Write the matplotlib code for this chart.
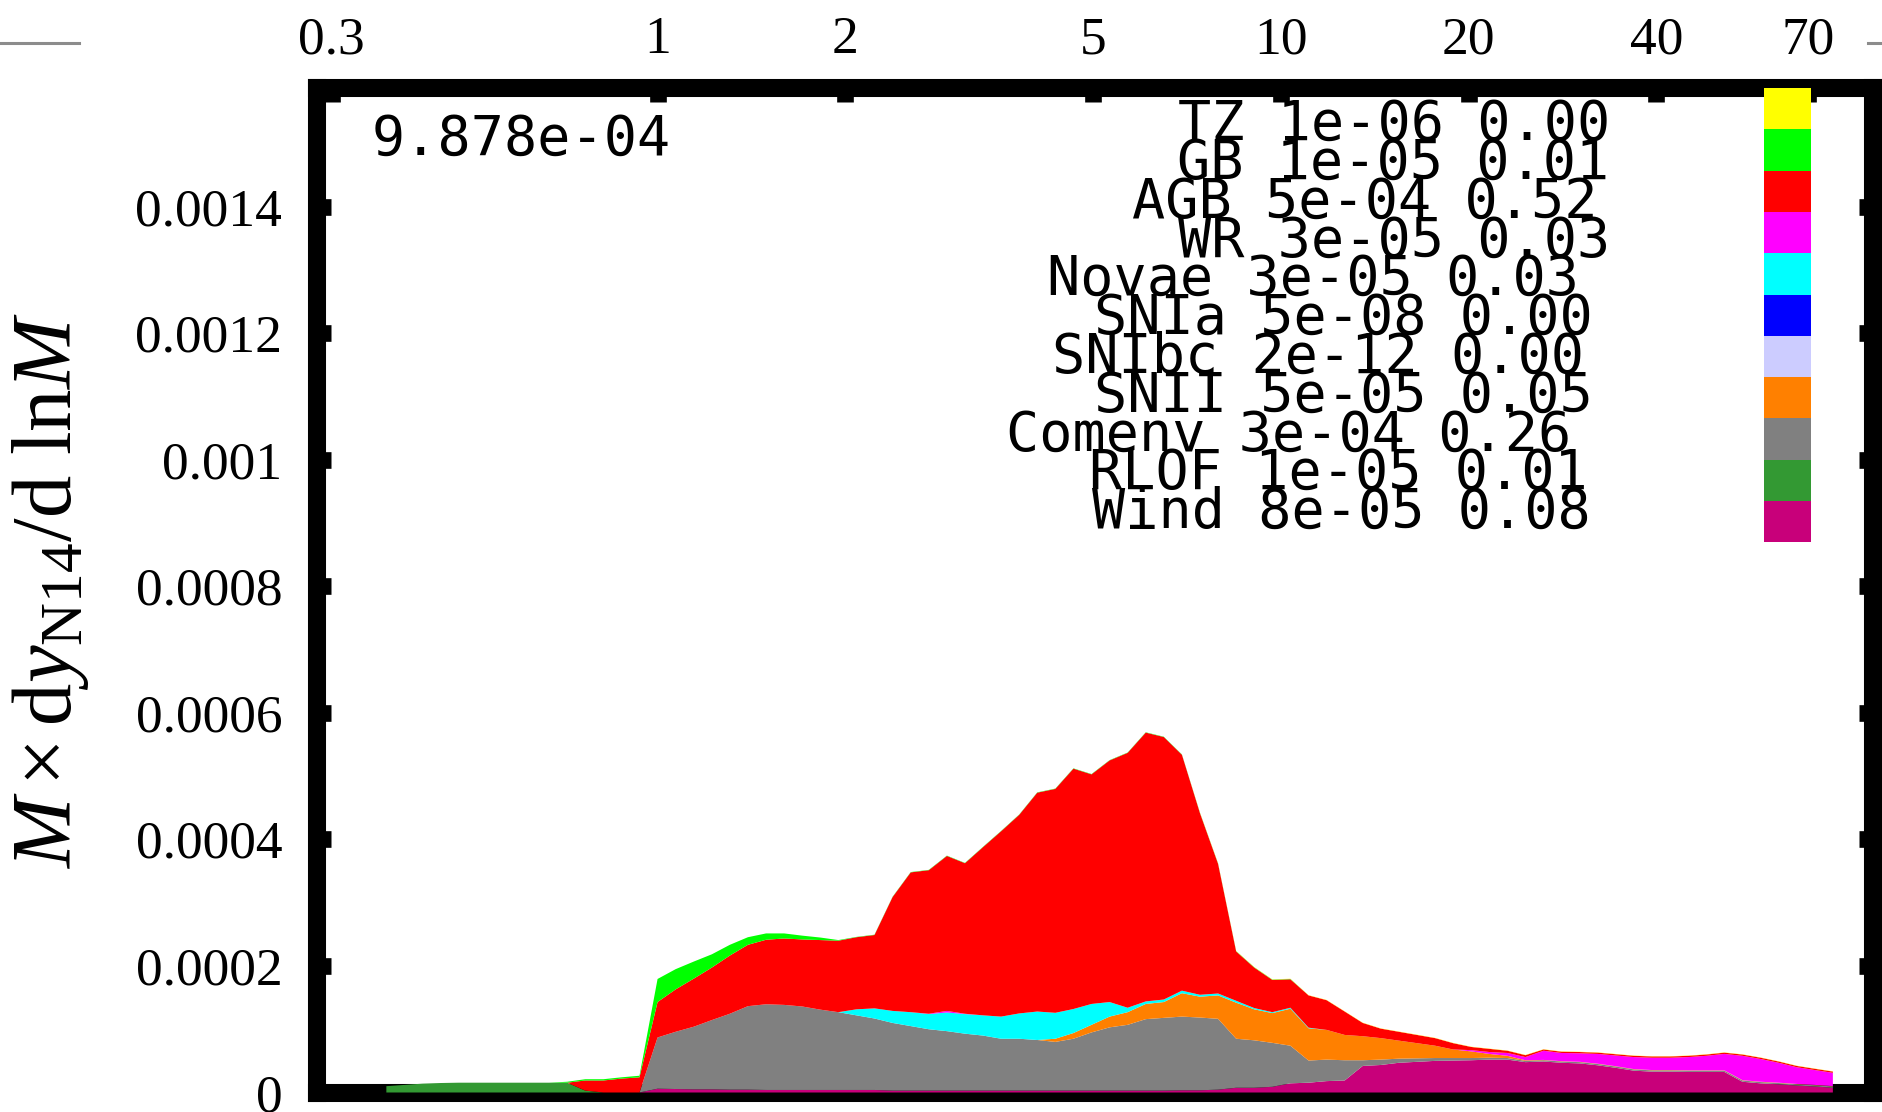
import numpy as np
import matplotlib
matplotlib.use("Agg")
import matplotlib.pyplot as plt
from matplotlib.patches import Rectangle
from matplotlib.lines import Line2D
from matplotlib.ticker import NullLocator

plt.rcParams['mathtext.fontset'] = 'custom'
plt.rcParams['mathtext.rm'] = 'Liberation Serif'
plt.rcParams['mathtext.it'] = 'Liberation Serif:italic'

# initial mass grid (Msun)
mass = [0.3673, 0.3926, 0.4198, 0.4487, 0.4797, 0.5129, 0.5483, 0.5861, 0.6266, 0.6699,
        0.7161, 0.7656, 0.8185, 0.8750, 0.9354,
        1.000, 1.069, 1.143, 1.222, 1.306, 1.396, 1.493, 1.596, 1.706, 1.824,
        1.950, 2.084, 2.228, 2.382, 2.547, 2.723, 2.911, 3.112, 3.327, 3.556,
        3.802, 4.064, 4.345, 4.645, 4.966, 5.309, 5.675, 6.067, 6.486, 6.934,
        7.413, 7.925, 8.472, 9.057, 9.683, 10.35, 11.07, 11.83, 12.65, 13.52,
        14.45, 15.45, 16.52, 17.66, 18.88, 20.18, 21.58, 23.07, 24.66, 26.36,
        28.18, 30.13, 32.21, 34.43, 36.81, 39.35, 42.07, 44.98, 48.08, 51.40,
        54.95, 58.75, 62.81, 67.14, 71.78, 76.74]

# contributions in units of 1e-5
wind = [0, 0, 0, 0, 0, 0, 0, 0, 0, 0, 0, 0, 0, 0, 0,
        0.6, 0.55, 0.5, 0.5, 0.45, 0.45, 0.4, 0.4, 0.4, 0.4,
        0.4, 0.4, 0.4, 0.3, 0.3, 0.3, 0.3, 0.3, 0.3, 0.3,
        0.3, 0.3, 0.3, 0.3, 0.3, 0.3, 0.3, 0.3, 0.3, 0.35,
        0.35, 0.45, 0.75, 0.75, 0.9, 1.45, 1.55, 1.8, 1.9, 4.2,
        4.35, 4.7, 4.85, 5.0, 5.05, 5.1, 5.2, 5.2, 4.8, 4.9,
        4.7, 4.6, 4.3, 3.9, 3.45, 3.3, 3.3, 3.25, 3.25, 3.25,
        1.7, 1.45, 1.3, 1.1, 0.95, 0.76]
rlof = [1.0, 1.2, 1.4, 1.5, 1.55, 1.55, 1.55, 1.55, 1.55, 1.55, 1.55, 0.3, 0, 0, 0,
        0, 0, 0, 0, 0, 0, 0, 0, 0, 0,
        0, 0, 0, 0, 0, 0, 0, 0, 0, 0,
        0, 0, 0, 0, 0, 0, 0, 0, 0, 0,
        0, 0, 0, 0, 0, 0, 0, 0, 0, 0,
        0, 0, 0, 0, 0, 0, 0, 0, 0, 0,
        0, 0, 0, 0, 0, 0, 0, 0, 0, 0,
        0, 0, 0, 0, 0, 0]
comenv = [0, 0, 0, 0, 0, 0, 0, 0, 0, 0, 0, 0, 0, 0, 0,
          8.1, 9.05, 9.9, 10.95, 12.0, 13.2, 13.55, 13.45, 13.2, 12.7,
          12.3, 11.8, 11.3, 10.7, 10.2, 9.7, 9.4, 9.0, 8.7, 8.2,
          8.2, 8.0, 7.7, 8.2, 9.2, 10.0, 10.4, 11.3, 11.5, 11.65,
          11.5, 11.2, 7.75, 7.5, 6.95, 5.95, 3.5, 3.4, 3.2, 0.9,
          0.85, 0.65, 0.55, 0.45, 0.4, 0.35, 0.3, 0.25, 0.2, 0.2,
          0.2, 0.2, 0.2, 0.2, 0.2, 0.2, 0.2, 0.2, 0.2, 0.2,
          0.2, 0.2, 0.2, 0.2, 0.2, 0.2]
snii = [0, 0, 0, 0, 0, 0, 0, 0, 0, 0, 0, 0, 0, 0, 0,
        0, 0, 0, 0, 0, 0, 0, 0, 0, 0,
        0, 0, 0, 0, 0, 0, 0, 0, 0, 0,
        0, 0, 0.5, 0.9, 1.2, 1.7, 2.0, 2.4, 2.5, 3.7,
        3.3, 3.7, 5.7, 4.9, 4.7, 5.85, 5.1, 4.7, 4.0, 3.8,
        3.4, 2.85, 2.4, 1.95, 1.35, 1.05, 0.6, 0.35, 0.1, 0.05,
        0.05, 0.05, 0.05, 0.05, 0.05, 0.05, 0.05, 0.05, 0.05, 0.05,
        0.05, 0.05, 0.05, 0.05, 0.05, 0.05]
snibc = [0.0] * len(mass)
snia = [0.0] * len(mass)
novae = [0, 0, 0, 0, 0, 0, 0, 0, 0, 0, 0, 0, 0, 0, 0,
         0, 0, 0, 0, 0, 0, 0, 0, 0, 0,
         0, 0.95, 1.6, 1.9, 2.2, 2.4, 2.95, 3.1, 3.2, 3.5,
         4.0, 4.5, 4.1, 3.8, 3.3, 2.3, 0.7, 0.4, 0.4, 0.4,
         0.3, 0.3, 0.3, 0.2, 0.15, 0.15, 0.1, 0, 0, 0,
         0, 0, 0, 0, 0, 0, 0, 0, 0, 0,
         0, 0, 0, 0, 0, 0, 0, 0, 0, 0,
         0, 0, 0, 0, 0, 0]
wr = [0, 0, 0, 0, 0, 0, 0, 0, 0, 0, 0, 0, 0, 0, 0,
      0, 0, 0, 0, 0, 0, 0, 0, 0, 0,
      0, 0, 0, 0, 0, 0.05, 0.25, 0.05, 0, 0,
      0, 0, 0, 0, 0, 0, 0, 0, 0, 0,
      0, 0, 0, 0, 0, 0, 0, 0, 0, 0,
      0, 0, 0, 0, 0, 0.2, 0.3, 0.45, 0.5, 1.45,
      1.3, 1.35, 1.55, 1.7, 1.9, 1.95, 1.95, 2.1, 2.3, 2.6,
      3.85, 3.6, 3.15, 2.65, 2.35, 2.1]
agb = [0, 0, 0, 0, 0, 0, 0, 0, 0, 0, 0, 1.6, 1.9, 2.2, 2.4,
       5.6, 6.7, 7.6, 8.3, 9.2, 9.7, 10.2, 10.5, 10.6, 11.0,
       11.3, 11.4, 11.6, 18.0, 22.1, 22.7, 24.5, 23.8, 26.6, 29.3,
       31.4, 34.6, 35.4, 38.0, 36.3, 38.2, 40.3, 42.5, 41.5, 37.3,
       28.7, 20.5, 7.8, 6.4, 5.1, 4.5, 5.1, 4.7, 3.7, 2.1,
       1.5, 1.4, 1.3, 1.2, 1.0, 0.5, 0.5, 0.35, 0.3, 0.2,
       0.2, 0.2, 0.2, 0.2, 0.2, 0.2, 0.2, 0.2, 0.2, 0.2,
       0.2, 0.2, 0.2, 0.2, 0.2, 0.2]
gb = [0, 0, 0, 0, 0, 0, 0, 0, 0, 0, 0.15, 0.2, 0.2, 0.2, 0.25,
      3.65, 3.2, 2.7, 2.1, 1.7, 1.2, 1.0, 0.8, 0.6, 0.4,
      0.1, 0.05, 0.05, 0.05, 0.05, 0.05, 0.05, 0.05, 0.05, 0.05,
      0.05, 0.05, 0.05, 0.05, 0.05, 0.05, 0.05, 0.05, 0.05, 0.05,
      0.05, 0.05, 0.05, 0.05, 0.05, 0.05, 0, 0, 0, 0,
      0, 0, 0, 0, 0, 0, 0, 0, 0, 0,
      0, 0, 0, 0, 0, 0, 0, 0, 0, 0,
      0, 0, 0, 0, 0, 0]
tz = [0, 0, 0, 0, 0, 0, 0, 0, 0, 0, 0, 0, 0, 0, 0,
      0, 0, 0, 0, 0, 0, 0, 0, 0, 0,
      0, 0, 0, 0, 0, 0, 0, 0, 0, 0,
      0, 0, 0, 0, 0, 0, 0, 0, 0, 0,
      0.04, 0.04, 0.04, 0.04, 0.04, 0.04, 0.04, 0.04, 0.04, 0.04,
      0.04, 0.04, 0.04, 0.04, 0.04, 0.04, 0.04, 0.04, 0.04, 0.04,
      0.04, 0.04, 0.04, 0.04, 0.04, 0.04, 0.04, 0.04, 0.04, 0.04,
      0.04, 0.04, 0.04, 0.04, 0.04, 0.04]

# key: top to bottom
names = ['TZ', 'GB', 'AGB', 'WR', 'Novae', 'SNIa', 'SNIbc', 'SNII', 'Comenv', 'RLOF', 'Wind']
yields = [1e-06, 1e-05, 5e-04, 3e-05, 3e-05, 5e-08, 2e-12, 5e-05, 3e-04, 1e-05, 8e-05]
fracs = [0.00, 0.01, 0.52, 0.03, 0.03, 0.00, 0.00, 0.05, 0.26, 0.01, 0.08]
colors = ['#ffff00', '#00ff00', '#ff0000', '#ff00ff', '#00ffff', '#0000ff',
          '#ccccff', '#ff8000', '#808080', '#339933', '#c8007a']
total_label = '9.878e-04'

xticks = [0.3, 1, 2, 5, 10, 20, 40, 70]
yticks = [0, 0.0002, 0.0004, 0.0006, 0.0008, 0.001, 0.0012, 0.0014]
ytick_labels = ['0', '0.0002', '0.0004', '0.0006', '0.0008', '0.001', '0.0012', '0.0014']

W, H = 1882, 1112
fig = plt.figure(figsize=(W / 100, H / 100), dpi=100)
ax = fig.add_axes([317 / W, 19.5 / H, 1556 / W, 1004.5 / H])

# stack from the bottom: Wind first, TZ last
layers = [wind, rlof, comenv, snii, snibc, snia, novae, wr, agb, gb, tz]
polys = ax.stackplot(mass, *[np.array(l) * 1e-5 for l in layers],
                     colors=colors[::-1], linewidth=0)
for p in polys:
    p.set_zorder(3)

ax.set_xscale('log')
ax.set_xlim(0.2843, 89.0)
ax.set_ylim(0, 0.0015881)

ax.xaxis.tick_top()
ax.set_xticks(xticks)
ax.set_xticklabels([f'{t:g}' for t in xticks])
ax.xaxis.set_minor_locator(NullLocator())
ax.set_yticks(yticks)
ax.set_yticklabels(ytick_labels)
ax.tick_params(axis='both', direction='in', length=10, width=12, labelsize=38.5)
ax.tick_params(axis='x', top=True, bottom=False, pad=17)
ax.tick_params(axis='y', left=True, right=True, pad=25)
for lab in ax.get_xticklabels() + ax.get_yticklabels():
    lab.set_fontfamily('Liberation Serif')
for s in ax.spines.values():
    s.set_linewidth(13)

# key boxes
box_h = 41.3 / 1004.5
for i, c in enumerate(colors):
    ax.add_patch(Rectangle(((1764 - 317) / 1556, 1 - (i + 1) * box_h), 47 / 1556, box_h,
                           transform=ax.transAxes, facecolor=c, edgecolor='none',
                           zorder=5, clip_on=False))

# key text
left_px = [1178, 1177, 1132, 1178, 1047, 1094, 1052, 1094, 1006, 1089, 1092]
for i, (n, y, f) in enumerate(zip(names, yields, fracs)):
    fig.text(left_px[i] / W, 1 - (140 + 38.8 * i) / H, f'{n} {y:.0e} {f:.2f}',
             family='DejaVu Sans Mono', fontsize=39.7, ha='left', va='baseline', zorder=6)

fig.text(372 / W, 1 - 155 / H, total_label, family='DejaVu Sans Mono',
         fontsize=39.7, ha='left', va='baseline')

fig.text(50 / W, 1 - 591 / H, r'$M \times \mathrm{d}y_{\mathrm{N14}}/\mathrm{d\ ln}M$',
         rotation=90, ha='center', va='center', fontsize=61)

# stray grey strokes along the top edge
fig.add_artist(Line2D([0, 79 / W], [1 - 43 / H] * 2, color='#8c8c8c', lw=2.2))
fig.add_artist(Line2D([1868 / W, 1], [1 - 43 / H] * 2, color='#8c8c8c', lw=2.2))

fig.savefig('out.png', dpi=100)
